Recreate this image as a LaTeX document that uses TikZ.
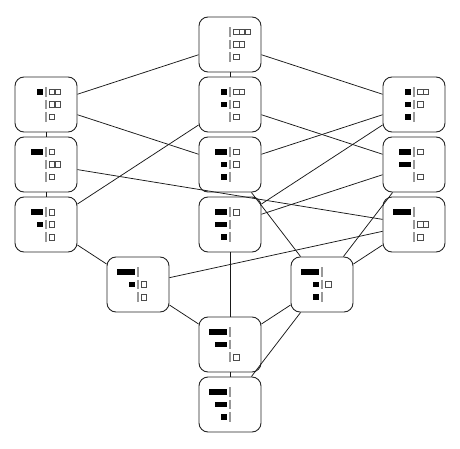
\documentclass[tikz,border=0pt]{standalone}
\usetikzlibrary{positioning}

% black cells left of the bar, empty cells right of it; rows of 3, 2 and 1 cells
\newcommand{\stairrows}[4]{%
  \begin{scope}[shift={(#1.center)}]
    \foreach \nb [count=\rw] in {#2,#3,#4} {
      \pgfmathsetmacro{\ry}{(2-\rw)*12.5}
      \pgfmathtruncatemacro{\nw}{4-\rw-\nb}
      \draw[bar] (0,\ry+4.6) -- (0,\ry-4.6);
      \ifnum\nb>0 \fill (-2.6-6*\nb,\ry-2.7) rectangle (-2.6,\ry+2.7); \fi
      \ifnum\nw>0
        \foreach \kk in {1,...,\nw}
          \draw[cell] (3.2+5.8*\kk-5.8+0.2,\ry-2.8) rectangle (3.2+5.8*\kk-0.2,\ry+2.8);
      \fi
    }
  \end{scope}}

\begin{document}
\begin{tikzpicture}[
  x=1pt, y=1pt,
  stair/.style={rectangle, draw=black!85, line width=0.9pt, rounded corners=9pt,
    minimum width=62pt, minimum height=55pt},
  bar/.style={draw=black!40, line width=1.6pt},
  cell/.style={draw=black!70, line width=0.6pt},
  link/.style={draw=black!90, line width=0.75pt},
  node distance=60pt
]
\useasboundingbox (-230,44.5) rectangle (230,-404.5);

\node[stair] (top) at (0,0) {};
\node[stair, below of=top] (m1) {};
\node[stair, left of=m1, node distance=184pt] (l1) {};
\node[stair, right of=m1, node distance=184pt] (r1) {};
\node[stair, below of=l1] (l2) {};
\node[stair, below of=m1] (m2) {};
\node[stair, below of=r1] (r2) {};
\node[stair, below of=l2] (l3) {};
\node[stair, below of=m2] (m3) {};
\node[stair, below of=r2] (r3) {};
\node[stair, below of=l3, xshift=92pt] (a) {};
\node[stair, below of=r3, xshift=-92pt] (b) {};
\node[stair, below of=m3, node distance=120pt] (c) {};
\node[stair, below of=c] (d) {};

\stairrows{top}{0}{0}{0}
\stairrows{l1}{1}{0}{0}
\stairrows{m1}{1}{1}{0}
\stairrows{r1}{1}{1}{1}
\stairrows{l2}{2}{0}{0}
\stairrows{m2}{2}{1}{1}
\stairrows{r2}{2}{2}{0}
\stairrows{l3}{2}{1}{0}
\stairrows{m3}{2}{2}{1}
\stairrows{r3}{3}{0}{0}
\stairrows{a}{3}{1}{0}
\stairrows{b}{3}{1}{1}
\stairrows{c}{3}{2}{0}
\stairrows{d}{3}{2}{1}

\draw[link] (top) -- (l1);
\draw[link] (top) -- (m1);
\draw[link] (top) -- (r1);
\draw[link] (l1) -- (l2);
\draw[link] (l1) -- (m2);
\draw[link] (l2) -- (l3);
\draw[link] (l2) -- (r3);
\draw[link] (l3) -- (m1);
\draw[link] (l3) -- (a);
\draw[link] (m1) -- (r2);
\draw[link] (r1) -- (m2);
\draw[link] (r1) -- (m3);
\draw[link] (r2) -- (m3);
\draw[link] (r2) -- (b);
\draw[link] (m2) -- (b);
\draw[link] (m3) -- (c);
\draw[link] (r3) -- (a);
\draw[link] (r3) -- (b);
\draw[link] (a) -- (c);
\draw[link] (b) -- (c);
\draw[link] (b) -- (d);
\draw[link] (c) -- (d);
\end{tikzpicture}
\end{document}
